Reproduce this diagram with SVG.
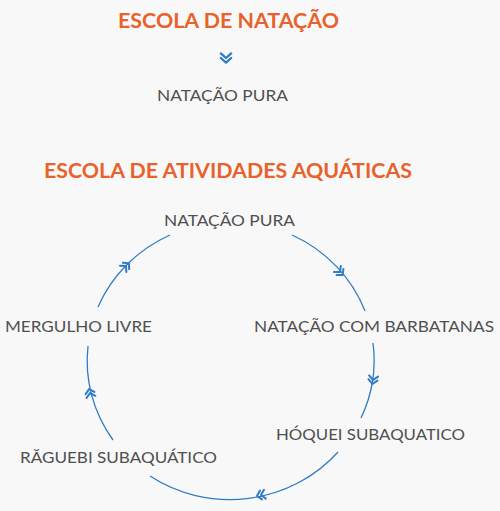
<svg xmlns="http://www.w3.org/2000/svg" width="500" height="511" viewBox="0 0 500 511">
<style>
.title{font-family:Lato,"Open Sans","Liberation Sans",sans-serif;font-weight:bold;font-size:20px;fill:#e8622c;}
.lbl{font-family:Lato,"Open Sans","Liberation Sans",sans-serif;font-weight:400;font-size:16px;fill:#505050;}
.arc{fill:none;stroke:#2f7cc4;stroke-width:1.3;}
.chev{fill:none;stroke:#2f7cc4;stroke-width:2;stroke-linecap:round;stroke-linejoin:round;}
</style>
<defs>
<path id="dchev" class="chev" d="M-4,-4.5 L0,0 L-4,4.5 M0,-4.5 L4,0 L0,4.5"/>
</defs>
<rect x="0" y="0" width="500" height="511" fill="#f8f8f8"/>
<g id="title1"><text class="title" x="118" y="27.5" textLength="221" lengthAdjust="spacingAndGlyphs">ESCOLA DE NATAÇÃO</text></g>
<g id="node-top-pura"><text class="lbl" x="157" y="101" textLength="131" lengthAdjust="spacingAndGlyphs">NATAÇÃO PURA</text></g>
<g id="title2"><text class="title" x="44" y="177.5" textLength="368" lengthAdjust="spacingAndGlyphs">ESCOLA DE ATIVIDADES AQUÁTICAS</text></g>
<g id="node-pura"><text class="lbl" x="164" y="226" textLength="131" lengthAdjust="spacingAndGlyphs">NATAÇÃO PURA</text></g>
<g id="node-barbatanas"><text class="lbl" x="254" y="332" textLength="240" lengthAdjust="spacingAndGlyphs">NATAÇÃO COM BARBATANAS</text></g>
<g id="node-hoquei"><text class="lbl" x="276" y="439.5" textLength="189" lengthAdjust="spacingAndGlyphs">HÓQUEI SUBAQUATICO</text></g>
<g id="node-raguebi"><text class="lbl" x="20" y="462.5" textLength="197" lengthAdjust="spacingAndGlyphs">RĂGUEBI SUBAQUÁTICO</text></g>
<g id="node-mergulho"><text class="lbl" x="5" y="332" textLength="147" lengthAdjust="spacingAndGlyphs">MERGULHO LIVRE</text></g>
<g id="connectors">
<use href="#dchev" transform="translate(226,58) rotate(90) scale(1.15)"/>
<path class="arc" d="M98,307 A143,138 0 0 1 170,235"/>
<use href="#dchev" transform="translate(126,266) rotate(-45)"/>
<path class="arc" d="M292,235 A143,138 0 0 1 365,311"/>
<use href="#dchev" transform="translate(340,272) rotate(49)"/>
<path class="arc" d="M373,343 A143,138 0 0 1 361,418"/>
<use href="#dchev" transform="translate(373,380) rotate(98)"/>
<path class="arc" d="M338,452 A143,138 0 0 1 150,476"/>
<use href="#dchev" transform="translate(261,495) rotate(168)"/>
<path class="arc" d="M113,440 A143,138 0 0 1 88,346"/>
<use href="#dchev" transform="translate(90,393) rotate(-104)"/>
</g>
</svg>
